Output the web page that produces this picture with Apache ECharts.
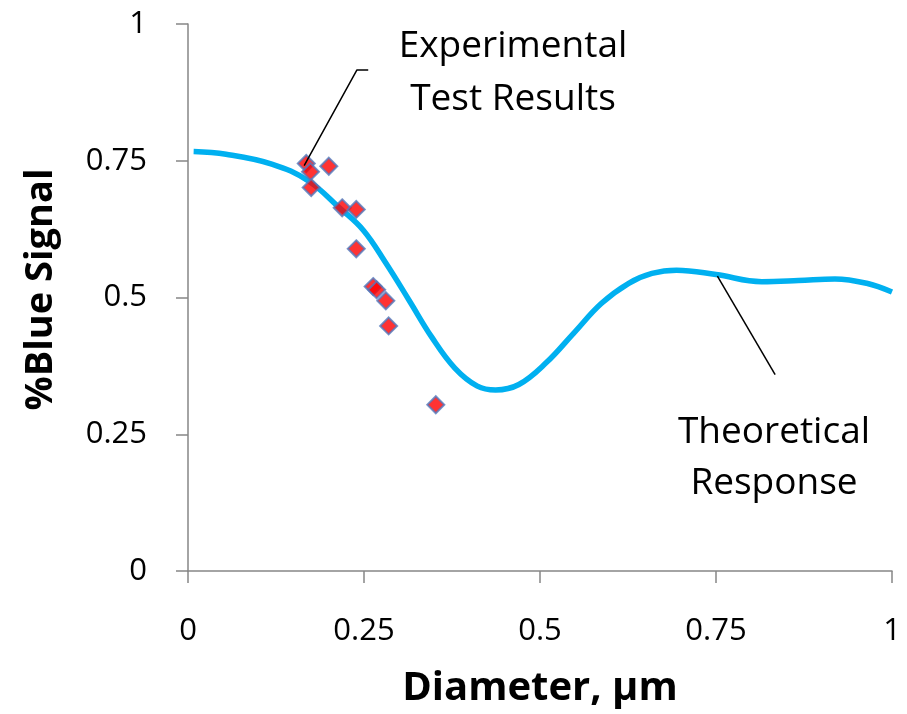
<!DOCTYPE html>
<html>
<head>
<meta charset="utf-8">
<script src="https://cdn.jsdelivr.net/npm/echarts@6/dist/echarts.min.js"></script>
<style>
  html, body { margin: 0; padding: 0; background: #fff; }
  #chart { width: 907px; height: 714px; }
</style>
</head>
<body>
<div id="chart"></div>
<script>
// Theoretical response curve: diameter (µm) and %blue signal
const curveX = [0.008, 0.054, 0.119, 0.171, 0.216, 0.249, 0.281, 0.314, 0.346, 0.379, 0.411, 0.437, 0.470, 0.509, 0.548, 0.587, 0.626, 0.659, 0.694, 0.750, 0.815, 0.867, 0.919, 0.964, 1.0];
const curveY = [0.767, 0.762, 0.744, 0.713, 0.663, 0.623, 0.563, 0.495, 0.428, 0.371, 0.338, 0.331, 0.341, 0.381, 0.435, 0.489, 0.526, 0.544, 0.550, 0.542, 0.529, 0.531, 0.534, 0.526, 0.510];

// Experimental test results
const testX = [0.168, 0.174, 0.200, 0.175, 0.219, 0.239, 0.239, 0.263, 0.268, 0.281, 0.285, 0.352];
const testY = [0.745, 0.730, 0.740, 0.701, 0.664, 0.661, 0.589, 0.520, 0.514, 0.494, 0.448, 0.304];

// Axis ticks
const axisMin = 0, axisMax = 1, axisStep = 0.25;

// Leader lines (data coordinates)
const expLeader = [[0.165, 0.741], [0.240, 0.916], [0.256, 0.916]];
const theoLeader = [[0.752, 0.539], [0.834, 0.359]];

const FONT = '"Open Sans", "Noto Sans", sans-serif';

const chart = echarts.init(document.getElementById('chart'), null, { renderer: 'canvas' });

const curveData = curveX.map((x, i) => [x, curveY[i]]);
const testData = testX.map((x, i) => [x, testY[i]]);

const axisCommon = {
  type: 'value',
  min: axisMin,
  max: axisMax,
  interval: axisStep,
  splitLine: { show: false },
  axisLine: { show: true, lineStyle: { color: '#868686', width: 1.5 } },
  axisTick: { show: true, inside: false, length: 12, lineStyle: { color: '#868686', width: 1.5 } },
  axisLabel: { color: '#000', fontSize: 31, fontFamily: FONT },
  nameTextStyle: { color: '#000', fontSize: 38, fontWeight: 'bold', fontFamily: FONT }
};

const option = {
  backgroundColor: '#fff',
  animation: false,
  grid: { left: 188, top: 24, width: 704, height: 549, containLabel: false },
  xAxis: Object.assign({}, axisCommon, {
    name: 'Diameter, µm',
    nameLocation: 'middle',
    nameGap: 98,
    nameTextStyle: Object.assign({}, axisCommon.nameTextStyle, { fontSize: 40 }),
    axisLabel: Object.assign({}, axisCommon.axisLabel, { margin: 45 })
  }),
  yAxis: Object.assign({}, axisCommon, {
    name: '%Blue Signal',
    nameLocation: 'middle',
    nameGap: 128,
    nameTextStyle: Object.assign({}, axisCommon.nameTextStyle, { padding: [0, 0, 0, 16] }),
    axisLabel: Object.assign({}, axisCommon.axisLabel, { margin: 41 })
  }),
  series: [
    {
      name: 'Theoretical Response',
      type: 'line',
      smooth: 0.4,
      showSymbol: false,
      data: curveData,
      lineStyle: { color: '#00B0F0', width: 5.5 },
      z: 2
    },
    {
      name: 'Experimental Test Results',
      type: 'scatter',
      symbol: 'diamond',
      symbolSize: 17,
      data: testData,
      itemStyle: { color: '#FF0000', borderColor: '#5379BD', borderWidth: 2 },
      z: 3
    },
    {
      // leader line for experimental results label
      type: 'line',
      data: expLeader,
      showSymbol: false,
      lineStyle: { color: '#000', width: 1.5 },
      silent: true,
      z: 4
    },
    {
      // leader line for theoretical label
      type: 'line',
      data: theoLeader,
      showSymbol: false,
      lineStyle: { color: '#000', width: 1.5 },
      silent: true,
      z: 4
    }
  ],
  graphic: [
    {
      type: 'text',
      x: 513, y: 73,
      style: {
        text: 'Experimental\nTest Results',
        fontSize: 37, lineHeight: 53, fontFamily: FONT,
        fill: '#000', align: 'center', verticalAlign: 'middle'
      }
    },
    {
      type: 'text',
      x: 774, y: 458,
      style: {
        text: 'Theoretical\nResponse',
        fontSize: 37, lineHeight: 51, fontFamily: FONT,
        fill: '#000', align: 'center', verticalAlign: 'middle'
      }
    }
  ]
};

chart.setOption(option);
</script>
</body>
</html>
